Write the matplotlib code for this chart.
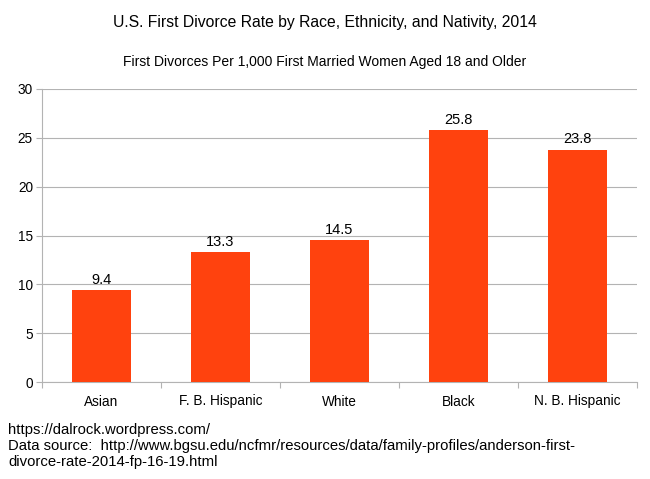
import numpy as np
import matplotlib
matplotlib.use("Agg")
import matplotlib.pyplot as plt

plt.rcParams['font.family'] = ['Liberation Sans', 'DejaVu Sans']

########################## data #####################################
categories = ["Asian", "F. B. Hispanic", "White", "Black", "N. B. Hispanic"]
rates = [9.4, 13.3, 14.5, 25.8, 23.8]
y_ticks = [0, 5, 10, 15, 20, 25, 30]

bar_color = "#ff420e"
grid_color = "#b3b3b3"

########################## figure #####################################
fig = plt.figure(figsize=(6.5, 4.79), dpi=100)
ax = fig.add_axes([42/650, 1-382/479, 595/650, 293/479])

x = np.arange(len(categories))
bars = ax.bar(x, rates, width=0.5, color=bar_color, zorder=3)
for b, v in zip(bars, rates):
    ax.text(b.get_x() + b.get_width()/2, v + 0.35, f"{v:.1f}",
            ha="center", va="bottom", fontsize=10.5, color="black")

ax.set_xlim(-0.5, len(categories) - 0.5)
ax.set_ylim(0, 30)
ax.set_yticks(y_ticks)
ax.yaxis.grid(True, color=grid_color, linewidth=0.8, zorder=0)
ax.set_axisbelow(True)

ax.set_xticks(x)
ax.set_xticklabels(categories, fontsize=9.8)
ax.tick_params(axis="x", which="major", length=0, pad=9)
ax.set_xticks(np.arange(len(categories) + 1) - 0.5, minor=True)
ax.tick_params(axis="x", which="minor", length=4, color=grid_color, width=0.8)
ax.tick_params(axis="y", length=4.5, color=grid_color, width=0.8, labelsize=9.8, pad=2)

for s in ["top", "right"]:
    ax.spines[s].set_visible(False)
for s in ["left", "bottom"]:
    ax.spines[s].set_color(grid_color)
    ax.spines[s].set_linewidth(0.8)

fig.text(0.5, 1-22/479, "U.S. First Divorce Rate by Race, Ethnicity, and Nativity, 2014",
         ha="center", va="center", fontsize=11.3)
fig.text(0.5, 1-62/479, "First Divorces Per 1,000 First Married Women Aged 18 and Older",
         ha="center", va="center", fontsize=10)
fig.text(8/650, 1-446/479,
         "https://dalrock.wordpress.com/\n"
         "Data source:  http://www.bgsu.edu/ncfmr/resources/data/family-profiles/anderson-first-\n"
         "divorce-rate-2014-fp-16-19.html",
         ha="left", va="center", fontsize=10.7, linespacing=1.22)

fig.savefig("out.png", dpi=100)
